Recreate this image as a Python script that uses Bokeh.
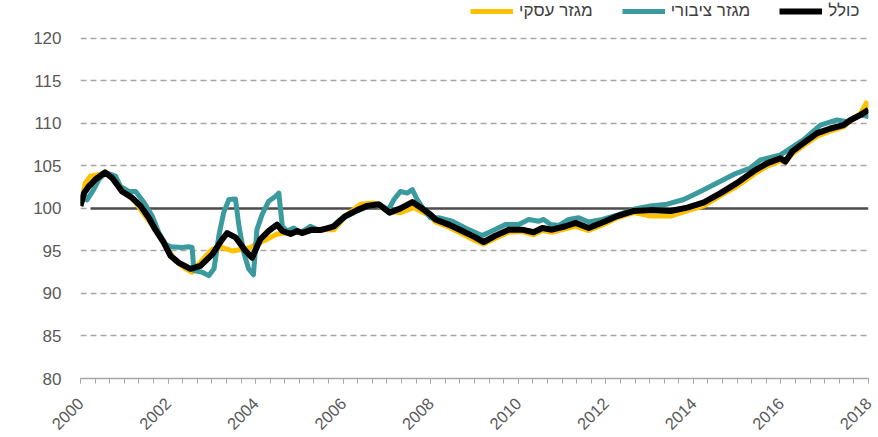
import math
from bokeh.plotting import figure
from bokeh.models import FixedTicker, Legend, LegendItem, Range1d
from bokeh.embed import file_html
from bokeh.resources import INLINE

# ---- data ----
total_t = [2000.0, 2000.08, 2000.19, 2000.34, 2000.56, 2000.72, 2000.95, 2001.18, 2001.37, 2001.56,
           2001.71, 2001.90, 2002.06, 2002.25, 2002.51, 2002.74, 2003.01, 2003.24, 2003.35, 2003.54,
           2003.77, 2003.92, 2004.11, 2004.30, 2004.49, 2004.61, 2004.80, 2004.95, 2005.06, 2005.29,
           2005.48, 2005.79, 2006.05, 2006.32, 2006.55, 2006.81, 2007.06, 2007.31, 2007.58, 2007.77,
           2007.99, 2008.11, 2008.41, 2008.72, 2009.02, 2009.21, 2009.48, 2009.78, 2010.09, 2010.35,
           2010.55, 2010.77, 2011.08, 2011.31, 2011.61, 2011.99, 2012.26, 2012.64, 2013.02, 2013.48,
           2013.86, 2014.24, 2014.62, 2015.00, 2015.38, 2015.68, 2015.99, 2016.10, 2016.26, 2016.52,
           2016.83, 2017.13, 2017.43, 2017.59, 2017.82, 2018.0]
total_v = [100.3, 101.8, 102.6, 103.4, 104.25, 103.6, 102.0, 101.25, 100.3, 98.9,
           97.5, 96.0, 94.4, 93.6, 92.9, 93.25, 94.6, 96.4, 97.1, 96.6,
           95.0, 94.2, 96.4, 97.35, 98.1, 97.35, 97.0, 97.35, 97.1, 97.5,
           97.45, 97.9, 99.1, 99.8, 100.3, 100.5, 99.5, 100.0, 100.75, 100.1,
           99.3, 98.7, 98.1, 97.35, 96.6, 96.05, 96.8, 97.5, 97.5, 97.2,
           97.7, 97.5, 97.9, 98.3, 97.7, 98.5, 99.1, 99.7, 99.8, 99.7,
           100.1, 100.7, 101.8, 103.0, 104.4, 105.3, 105.9, 105.5, 106.7, 107.7,
           108.85, 109.4, 109.8, 110.4, 111.0, 111.6]

public_t = [2000.0, 2000.06, 2000.15, 2000.30, 2000.42, 2000.57, 2000.80, 2000.91, 2001.10, 2001.26,
            2001.45, 2001.64, 2001.79, 2001.94, 2002.06, 2002.32, 2002.47, 2002.55, 2002.59, 2002.78,
            2002.93, 2003.05, 2003.16, 2003.27, 2003.39, 2003.54, 2003.62, 2003.73, 2003.84, 2003.95,
            2004.03, 2004.15, 2004.30, 2004.45, 2004.53, 2004.61, 2004.72, 2004.87, 2005.03, 2005.25,
            2005.41, 2005.71, 2005.94, 2006.24, 2006.55, 2006.85, 2007.04, 2007.16, 2007.31, 2007.46,
            2007.58, 2007.69, 2007.84, 2007.99, 2008.18, 2008.49, 2008.79, 2009.17, 2009.40, 2009.71,
            2010.01, 2010.24, 2010.47, 2010.58, 2010.74, 2010.93, 2011.15, 2011.38, 2011.61, 2011.92,
            2012.26, 2012.64, 2013.02, 2013.40, 2013.78, 2014.16, 2014.54, 2014.92, 2015.30, 2015.53,
            2015.99, 2016.52, 2016.90, 2017.28, 2017.51, 2017.82, 2018.0]
public_v = [100.3, 101.6, 101.0, 102.2, 103.4, 104.2, 103.8, 102.6, 102.0, 102.0,
            100.7, 99.1, 97.15, 95.8, 95.5, 95.4, 95.5, 95.4, 92.7, 92.5,
            92.1, 92.9, 96.8, 99.5, 101.05, 101.1, 97.9, 94.8, 92.9, 92.2,
            97.5, 99.3, 100.85, 101.4, 101.8, 97.9, 97.35, 97.7, 97.15, 97.9,
            97.5, 97.7, 98.7, 99.5, 100.3, 100.3, 99.9, 101.05, 102.0, 101.8,
            102.2, 101.05, 99.9, 98.9, 98.9, 98.5, 97.7, 96.8, 97.35, 98.1,
            98.1, 98.7, 98.5, 98.7, 98.1, 98.0, 98.7, 98.9, 98.4, 98.7,
            99.2, 99.9, 100.3, 100.5, 101.05, 102.0, 103.0, 104.0, 104.75, 105.7,
            106.3, 108.1, 109.8, 110.4, 110.2, 111.0, 110.8]

business_t = [2000.0, 2000.11, 2000.23, 2000.42, 2000.57, 2000.80, 2001.03, 2001.26, 2001.48, 2001.71,
              2001.94, 2002.17, 2002.40, 2002.55, 2002.70, 2002.86, 2003.01, 2003.24, 2003.47, 2003.69,
              2003.88, 2004.0, 2004.19, 2004.49, 2004.80, 2005.10, 2005.41, 2005.79, 2006.09, 2006.40,
              2006.70, 2007.0, 2007.31, 2007.61, 2007.84, 2007.99, 2008.11, 2008.41, 2008.72, 2009.02,
              2009.21, 2009.48, 2009.78, 2010.09, 2010.35, 2010.55, 2010.77, 2011.08, 2011.31, 2011.61,
              2011.99, 2012.26, 2012.64, 2013.02, 2013.48, 2013.86, 2014.24, 2014.62, 2015.0, 2015.38,
              2015.68, 2015.99, 2016.10, 2016.26, 2016.52, 2016.83, 2017.13, 2017.43, 2017.59, 2017.82,
              2017.95, 2018.0]
business_v = [100.3, 103.0, 103.8, 104.0, 104.2, 103.4, 101.8, 100.7, 99.1, 97.5,
              95.6, 93.85, 92.9, 92.5, 93.45, 94.4, 95.2, 95.4, 95.0, 95.2,
              95.4, 95.8, 96.2, 97.0, 97.2, 97.35, 97.5, 97.5, 99.3, 100.5,
              100.65, 99.7, 99.5, 100.1, 99.5, 99.1, 98.4, 97.8, 97.0, 96.2,
              95.8, 96.5, 97.2, 97.3, 96.9, 97.4, 97.2, 97.6, 97.9, 97.4,
              98.2, 98.9, 99.5, 99.1, 99.1, 99.7, 100.3, 101.5, 102.6, 104.0,
              104.95, 105.6, 105.4, 106.4, 107.4, 108.5, 109.1, 109.6, 110.3, 111.2,
              112.4, 111.8]

baseline_t = [2000.23, 2018.0]
baseline_v = [100, 100]

x_ticks = [2000, 2002, 2004, 2006, 2008, 2010, 2012, 2014, 2016, 2018]
y_ticks = [80, 85, 90, 95, 100, 105, 110, 115, 120]

names = ["מגזר עסקי", "מגזר ציבורי", "כולל"]
colors = ["#FFC000", "#3A9A9E", "#000000"]

FONT = "Liberation Sans"
TXT = "#595959"

# frame reaches the top of the canvas so the legend (placed above the 120 line) is not clipped
p = figure(width=878, height=437, output_backend="svg", toolbar_location=None,
           x_range=Range1d(2000, 2018), y_range=Range1d(80, 124.45),
           min_border_left=80, min_border_right=10, min_border_top=0, min_border_bottom=57)
p.outline_line_color = None
p.background_fill_color = "white"

# grid
p.xgrid.grid_line_color = None
p.ygrid.ticker = FixedTicker(ticks=y_ticks)
p.ygrid.grid_line_color = "#A6A6A6"
p.ygrid.grid_line_width = 1.5
p.ygrid.grid_line_dash = "6 4"

# baseline 100
p.line(baseline_t, baseline_v, line_color="#4D4D4D", line_width=2.5)

r_bus = p.line(business_t, business_v, line_color=colors[0], line_width=5, line_join="round")
r_pub = p.line(public_t, public_v, line_color=colors[1], line_width=5, line_join="round")
r_tot = p.line(total_t, total_v, line_color=colors[2], line_width=6, line_join="round")

# axes
xa = p.xaxis[0]
xa.ticker = FixedTicker(ticks=x_ticks, minor_ticks=[2000 + i / 3 for i in range(55)])
xa.axis_line_color = "#A6A6A6"
xa.axis_line_width = 1.5
xa.major_tick_line_color = "#A6A6A6"
xa.minor_tick_line_color = "#A6A6A6"
xa.major_tick_in = 0
xa.major_tick_out = 5
xa.minor_tick_in = 0
xa.minor_tick_out = 5
xa.major_label_orientation = math.pi / 4
xa.major_label_text_font = FONT
xa.major_label_text_font_size = "16.5px"
xa.major_label_text_color = TXT
xa.major_label_standoff = 17

ya = p.yaxis[0]
ya.ticker = FixedTicker(ticks=y_ticks)
ya.axis_line_color = None
ya.major_tick_line_color = None
ya.minor_tick_line_color = None
ya.major_label_text_font = FONT
ya.major_label_text_font_size = "17px"
ya.major_label_text_color = TXT
ya.major_label_standoff = 13

legend = Legend(items=[LegendItem(label=names[0], renderers=[r_bus]),
                       LegendItem(label=names[1], renderers=[r_pub]),
                       LegendItem(label=names[2], renderers=[r_tot])],
                orientation="horizontal", location=(390, 357),
                label_text_font=FONT, label_text_font_size="17px", label_text_color="#404040",
                glyph_width=43, glyph_height=10, label_height=14, label_standoff=6, spacing=29,
                padding=0, margin=0, border_line_color=None, background_fill_alpha=0)
p.add_layout(legend)

open("out.html", "w").write(file_html(p, INLINE))
